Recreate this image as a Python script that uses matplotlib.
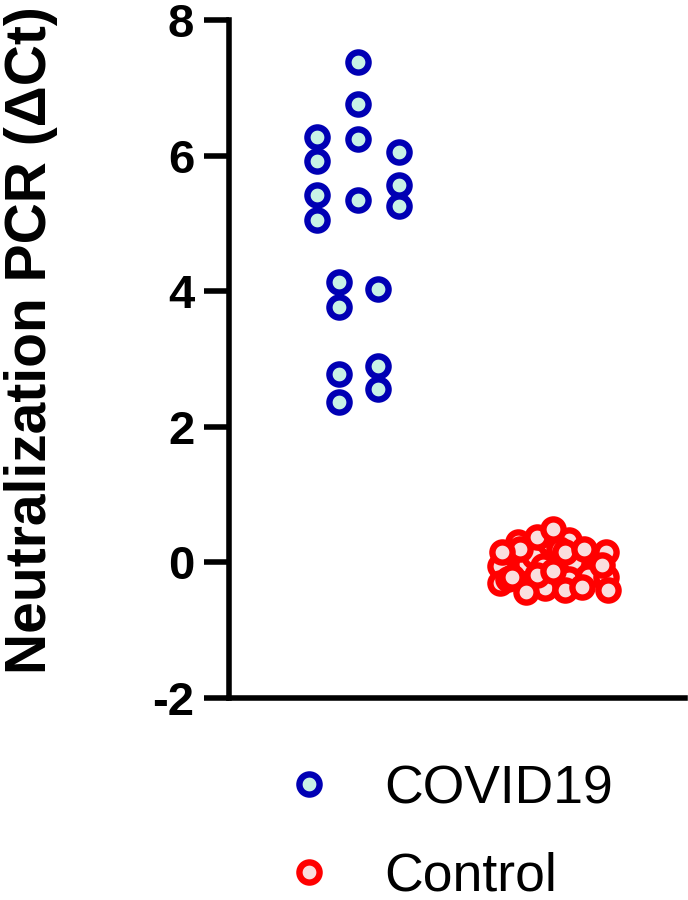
import numpy as np
import matplotlib
matplotlib.use('Agg')
import matplotlib.pyplot as plt
from matplotlib.lines import Line2D

plt.rcParams['font.family'] = ['Liberation Sans', 'DejaVu Sans']
plt.rcParams['axes.unicode_minus'] = False

groups = ['COVID19', 'Control']

# COVID19 values (delta Ct) with their swarm offsets
covid_values = [7.38, 6.76, 6.24, 6.28, 5.92, 5.42, 5.05, 5.35, 6.06, 5.57, 5.26,
                4.14, 3.77, 4.03, 2.78, 2.37, 2.90, 2.56]
covid_offsets = [0, 0, 0, -0.21, -0.21, -0.21, -0.21, 0, 0.21, 0.21, 0.21,
                 -0.10, -0.10, 0.10, -0.10, -0.10, 0.10, 0.10]

# Control values with swarm offsets
control_values = [0.15, -0.05, 0.12, -0.02, 0.05, -0.30, 0.08, 0.30, -0.30, -0.10,
                  0.05, -0.25, 0.10, -0.05, 0.00, -0.25, -0.20, -0.22, -0.38, -0.40,
                  -0.36, -0.18, 0.38, 0.33, 0.20, 0.20, 0.15,
                  0.50, 0.15, 0.15, 0.20, -0.04, -0.22, -0.12, -0.44, -0.41]
control_offsets = [-0.20, -0.27, -0.03, -0.14, -0.08, -0.27, 0.14, -0.18, 0.03, 0.21,
                   0.23, -0.23, -0.10, -0.05, 0.11, 0.08, 0.18, 0.27, -0.04, 0.06,
                   0.15, -0.08, -0.08, 0.08, -0.17, 0.03, 0.27,
                   0.0, -0.26, 0.06, 0.16, 0.25, -0.21, 0.0, -0.14, 0.28]

blue_edge = '#0000b4'
blue_face = '#c8f2e6'
red_edge = '#ff0000'
red_face = '#fadede'
ms = 14.5
mew = 4.6

fig = plt.figure(figsize=(6.88, 9.0), dpi=100)
ax = fig.add_axes([229 / 688, 202 / 900, (685 - 229) / 688, (698 - 20) / 900])

ax.plot(1 + np.array(covid_offsets), covid_values, 'o', ms=ms, mew=mew,
        mec=blue_edge, mfc=blue_face, linestyle='none', clip_on=False)
ax.plot(2 + np.array(control_offsets), control_values, 'o', ms=ms, mew=mew,
        mec=red_edge, mfc=red_face, linestyle='none', clip_on=False)

ax.set_xlim(0.338, 2.677)
ax.set_ylim(-2, 8)
ax.set_yticks([-2, 0, 2, 4, 6, 8])
ax.set_xticks([])
ax.spines['top'].set_visible(False)
ax.spines['right'].set_visible(False)
ax.spines['left'].set_linewidth(4)
ax.spines['bottom'].set_linewidth(4)
ax.tick_params(axis='y', length=18, width=4, pad=7, labelsize=34)
for lab in ax.get_yticklabels():
    lab.set_fontweight('heavy')

ax.set_ylabel('Neutralization PCR (\u0394Ct)', fontsize=41, fontweight='bold')
ax.yaxis.set_label_coords(-0.376, 0.528)

handles = [
    Line2D([], [], marker='o', linestyle='none', ms=ms, mew=mew, mec=blue_edge, mfc=blue_face),
    Line2D([], [], marker='o', linestyle='none', ms=ms, mew=mew, mec=red_edge, mfc=red_face),
]
fig.legend(handles, groups, loc='upper left', bbox_to_anchor=(282 / 688, 1 - 764 / 900),
           frameon=False, fontsize=38.5, handlelength=1.0, handletextpad=0.92,
           labelspacing=0.7, borderpad=0, borderaxespad=0)

fig.savefig('out.png', dpi=100)
